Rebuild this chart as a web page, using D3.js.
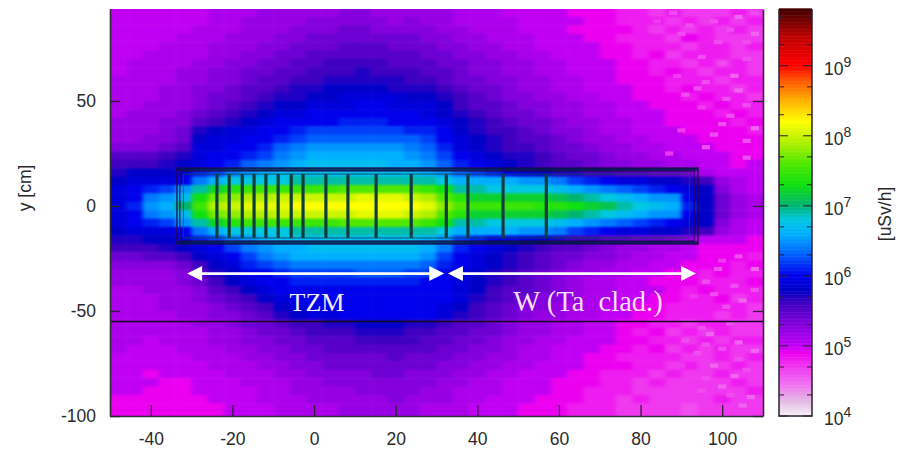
<!DOCTYPE html>
<html>
<head>
<meta charset="utf-8">
<script src="https://cdn.jsdelivr.net/npm/d3@7"></script>
<style>
html, body { margin: 0; padding: 0; background: #fff; }
text { font-family: "Liberation Sans", Arial, sans-serif; fill: #2a2a2a; }
</style>
</head>
<body>
<div id="chart"></div>
<script>
// bin centres of the dose map [cm]
var binX = [-48,-44,-40,-36,-32,-28,-24,-20,-16,-12,-8,-4,0,4,8,12,16,20,24,28,32,36,40,44,48,52,56,60,64,68,72,76,80,84,88,92,96,100,104,108];
var binY = [92,88,84,80,76,72,68,64,60,56,52,48,44,40,36,32,28,24,20,16,12,8,4,0,-4,-8,-12,-16,-20,-24,-28,-32,-36,-40,-44,-48,-52,-56,-60,-64,-68,-72,-76,-80,-84,-88,-92,-96,-100];

// log10(dose) x 10, one line per row of binY
var doseLog = [
[50,50,50,50,50,50,51,51,51,52,52,52,52,52,53,53,52,52,52,52,52,51,51,51,50,50,50,50,49,49,49,48,48,47,48,47,47,47,48,47],
[50,50,50,50,50,50,51,51,52,52,52,52,53,53,53,53,53,52,53,52,52,51,51,51,51,50,50,50,50,49,49,48,48,48,47,48,47,48,47,48],
[50,50,50,50,50,51,51,51,52,52,52,53,53,53,54,54,53,53,53,53,52,52,51,51,51,50,50,50,49,49,49,49,48,47,48,47,48,47,48,47],
[50,50,50,50,51,51,51,52,52,52,53,53,54,54,54,54,54,54,54,53,53,52,52,51,51,51,50,50,50,49,49,48,48,48,47,49,48,47,47,47],
[50,50,50,51,51,51,52,52,52,53,53,54,54,54,55,55,55,54,54,54,53,53,52,52,51,51,50,50,50,50,49,49,48,48,48,47,48,48,47,48],
[50,50,51,51,51,51,52,52,53,53,54,54,55,55,55,55,55,55,55,54,54,53,53,52,52,51,51,50,50,50,49,49,48,49,47,48,48,48,47,47],
[50,51,51,51,51,52,52,53,53,54,54,55,55,56,56,56,56,55,55,55,54,54,53,53,52,52,51,51,50,50,50,49,49,48,48,47,48,47,48,47],
[50,51,51,51,52,52,53,53,54,54,55,55,56,56,56,57,56,56,56,55,55,54,53,53,52,52,51,51,50,50,50,49,49,48,49,48,47,48,48,47],
[51,51,51,51,52,52,53,53,54,55,55,56,56,57,57,57,57,57,56,56,55,54,54,53,53,52,52,51,51,50,50,49,49,49,48,48,48,47,48,48],
[51,51,51,52,52,53,53,54,55,55,56,57,57,58,58,58,58,57,57,57,56,55,54,54,53,52,52,51,51,50,50,50,49,49,48,49,48,48,47,48],
[51,51,51,52,52,53,54,54,55,56,57,57,58,58,59,59,59,59,58,58,57,56,55,54,53,53,52,52,51,51,50,50,49,49,49,48,49,48,48,47],
[51,51,52,52,52,53,54,55,56,57,58,58,59,59,59,60,60,59,59,59,58,56,55,55,54,53,53,52,52,51,51,50,50,49,49,49,48,49,48,48],
[51,52,52,52,53,54,55,56,57,58,59,59,60,60,60,60,60,60,60,59,58,57,56,55,54,54,53,52,52,51,51,50,50,50,49,49,49,48,49,48],
[52,52,52,53,53,55,56,57,58,59,60,60,60,60,61,61,61,60,60,60,59,58,57,56,55,54,54,53,52,52,51,51,50,50,49,49,49,49,48,49],
[52,52,52,53,54,57,58,59,59,60,60,61,62,62,62,62,62,62,61,61,60,58,57,56,56,55,54,53,53,52,51,51,50,50,50,49,49,49,49,48],
[52,52,53,53,54,58,59,59,60,60,61,62,63,63,63,63,63,63,63,62,60,59,58,57,56,55,55,54,53,52,52,51,51,50,50,50,49,49,49,49],
[53,53,53,54,55,59,59,60,60,61,63,64,65,65,65,65,65,65,64,63,61,59,58,57,56,56,55,54,54,53,52,52,51,51,50,50,50,49,49,49],
[55,55,55,56,57,59,60,60,61,62,64,65,66,66,66,66,66,66,65,64,62,60,59,58,57,57,56,55,54,54,53,52,52,51,51,50,50,50,49,49],
[56,56,56,57,58,59,60,61,63,64,65,66,67,67,67,67,67,66,66,65,63,61,60,59,58,57,56,55,55,54,53,53,52,52,51,51,50,50,49,50],
[57,58,58,58,59,61,62,64,65,66,67,67,67,67,67,67,67,67,67,66,65,63,62,61,60,59,58,57,57,56,56,55,55,54,54,53,51,50,50,50],
[58,59,59,59,60,64,66,68,68,68,68,69,69,69,69,69,69,69,69,69,68,66,66,66,66,65,65,64,62,61,60,59,59,58,58,57,56,52,51,50],
[59,60,61,62,65,69,72,74,75,75,75,75,75,75,76,76,76,76,76,75,73,69,69,68,68,68,68,67,66,65,64,63,62,61,60,59,58,53,51,50],
[59,60,64,65,67,73,77,78,79,79,80,80,80,80,80,81,81,81,80,79,76,74,72,72,72,72,72,71,70,69,68,67,66,65,65,60,58,54,52,51],
[59,61,65,66,70,75,79,80,81,81,81,82,82,82,82,82,82,82,82,81,78,76,75,75,75,75,74,74,73,72,71,69,68,67,66,61,58,54,52,51],
[59,60,64,65,67,73,77,78,79,79,80,80,80,80,80,81,81,81,80,79,76,74,72,72,72,72,72,71,70,69,68,67,66,65,65,60,58,54,52,51],
[59,60,61,62,65,69,72,74,75,75,75,75,75,75,76,76,76,76,76,75,73,69,69,68,68,68,68,67,66,65,64,63,62,61,60,59,58,53,51,50],
[58,59,59,59,60,64,66,68,68,68,68,69,69,69,69,69,69,69,69,69,68,66,66,66,66,65,65,64,62,61,60,59,59,58,58,57,56,52,51,50],
[57,57,58,58,59,61,62,64,65,66,67,67,67,67,67,67,67,67,67,66,65,62,61,60,60,59,58,57,56,56,55,55,54,54,53,52,50,50,50,49],
[56,56,56,57,58,59,60,62,64,65,66,66,67,67,67,67,67,67,67,66,64,61,60,59,58,57,56,55,55,54,53,52,52,51,51,50,49,49,49,49],
[54,54,55,55,56,58,59,60,62,64,65,66,66,66,66,66,66,66,66,65,62,60,59,58,57,56,55,54,54,53,53,52,51,51,50,50,49,49,49,48],
[53,53,53,53,54,56,58,59,61,62,63,64,64,64,64,64,64,64,64,63,61,60,59,58,57,56,55,54,53,52,52,51,51,50,50,49,49,49,48,49],
[52,52,52,52,53,55,57,58,60,60,61,62,62,62,62,63,63,63,62,62,60,59,58,57,56,55,54,53,52,52,51,51,50,50,49,49,48,49,48,48],
[52,52,52,52,53,54,56,58,59,60,60,61,61,61,61,61,61,61,61,60,60,59,58,57,56,55,54,53,52,51,51,50,50,49,49,49,48,48,48,49],
[51,51,52,52,52,53,55,56,58,59,60,60,60,60,60,60,60,60,60,60,60,59,58,56,55,55,54,53,52,51,51,50,50,50,49,48,49,48,48,48],
[51,51,51,52,52,53,54,55,56,58,59,60,60,60,60,60,60,60,60,60,60,59,57,56,55,54,53,53,52,51,51,50,50,49,49,48,48,49,47,48],
[51,51,51,52,52,52,53,54,55,56,58,59,60,60,60,60,60,60,60,60,59,58,56,55,54,53,53,52,51,51,50,50,49,49,48,48,48,48,48,47],
[51,51,51,51,52,52,53,53,54,55,57,58,59,59,60,60,60,60,60,60,59,57,56,55,54,53,52,52,51,51,50,50,49,49,48,48,48,47,48,47],
[51,51,51,51,51,52,52,53,54,54,55,56,56,57,57,58,58,58,57,57,56,55,55,54,53,52,52,51,51,50,50,49,49,48,48,47,48,48,47,47],
[51,51,51,51,51,51,52,52,53,54,54,55,56,56,56,57,57,57,56,56,55,55,54,54,53,52,52,51,51,50,50,49,48,49,47,48,47,48,47,47],
[51,51,50,51,51,51,52,52,53,53,54,54,55,55,55,56,56,56,56,55,55,54,54,53,52,52,51,51,50,50,50,49,49,48,48,47,48,47,48,48],
[51,50,50,50,51,51,51,52,52,53,53,54,54,55,55,55,55,55,55,55,54,54,53,53,52,51,51,50,50,50,49,49,48,49,47,48,47,48,47,47],
[50,50,50,50,50,51,51,51,52,52,53,53,54,54,54,54,54,55,54,54,54,53,53,52,52,51,51,50,50,49,49,48,48,48,48,47,47,48,47,48],
[50,50,50,50,50,50,51,51,51,52,52,53,53,54,54,54,54,54,54,54,53,53,52,52,51,51,50,50,50,49,49,49,48,48,47,48,47,47,48,47],
[50,50,49,50,50,50,50,51,51,51,52,52,53,53,53,53,54,54,53,53,53,52,52,51,51,50,50,50,49,49,48,48,48,47,48,47,47,48,47,47],
[50,50,50,49,49,50,50,50,51,51,51,52,52,53,53,53,53,53,53,53,52,52,51,51,50,50,50,49,49,49,48,48,47,48,47,47,47,47,48,47],
[50,50,49,49,49,50,50,50,50,51,51,52,52,52,52,53,53,53,53,52,52,51,51,51,50,50,50,49,49,48,48,48,47,47,47,47,47,47,47,48],
[49,49,49,49,49,49,50,50,50,51,51,51,52,52,52,52,52,53,52,52,52,51,51,50,50,50,49,49,49,48,48,47,48,47,47,47,47,48,47,47],
[49,49,49,49,49,49,49,50,50,50,51,51,51,51,52,52,52,52,52,51,51,51,50,50,50,49,49,49,48,48,48,47,47,47,47,46,47,47,47,47],
[49,49,49,49,49,49,49,50,50,50,51,51,51,51,52,52,52,52,52,51,51,51,50,50,50,49,49,49,48,48,48,47,47,47,47,46,47,47,47,47]
];

// the lighter small bins on the right hand side: x [cm], y [cm], log10(dose) x 10
var speckle = [
[88,92,46],[90,82,46],[89,62,47],[91,53,46],[95,71,46],[95,47,47],[99,78,46],[103,62,45],[106,78,46],[108,82,45],
[104,90,45],[108,92,46],[102,43,46],[100,39,46],[108,37,45],[106,31,46],[93,68,47],[96,59,46],[87,25,47],[96,28,46],
[106,23,46],[104,55,45],[101,51,46],[95,-58,46],[91,-64,46],[97,-61,45],[104,-65,45],[94,-70,46],[98,-76,45],[104,-73,46],
[108,-69,45],[103,-81,45],[100,-86,45],[107,-91,45],[95,-88,46],[103,-38,46],[98,-42,46],[105,-45,45],[101,-48,46],[104,-24,46],
[99,-30,46],[108,-30,45],[93,-43,47],[75,-97,47],[105,-95,45],[84,88,47],[92,86,46],[98,88,46],[102,84,46],[106,70,46],
[100,68,46],[94,56,46],[106,48,46],[98,34,46],[90,36,47],[102,-56,46],[100,-68,46],[96,-66,46],[106,-78,46],[96,-82,46],
[90,-76,47],[102,-90,46],[92,-92,47],[108,-40,46],[96,-36,46],[100,-26,47]
];

// colour key: log10(dose) -> colour
var keyStops = [4.0,4.2,4.45,4.7,4.9,5.0,5.3,5.6,5.8,6.0,6.3,6.6,6.8,7.0,7.3,7.6,7.9,8.2,8.5,8.8,9.0,9.4,9.81];
var keyColors = ["#f7f2f7","#e4bce4","#f070f0","#f038f0","#ec00f0","#c000f4","#8400dc","#4000c0","#0000c8","#0000ec","#0060ff","#00b0ff","#00c8e0","#00b470","#10e010","#50e800","#b0f000","#ffff00","#ffb000","#ff5000","#ff0000","#c00000","#400000"];
var keyDecades = [4,5,6,7,8,9];
var keyMinor = [2e4,5e4,2e5,5e5,2e6,5e6,2e7,5e7,2e8,5e8,2e9,5e9];

var xTicks = [-40,-20,0,20,40,60,80,100];
var yTicks = [-100,-50,0,50];

// target: plates and shells
var plates = [-23.8,-20.8,-17.6,-14.7,-11.8,-8.8,-5.6,-2.7,2.9,8.3,15.2,23.8,32.4,37.7,46.3,56.9];
var shellX = [[-33.6,94.1],[-32.9,93.1],[-32,92]];
var shellY = [18.1,16.7,15.2];
var arrows = [[-31.1,31.9],[32.8,93.6]];
var arrowY = -32.2;
var cutY = -55;

var width = 902, height = 449;
var plotL = 110, plotR = 763, plotT = 9, plotB = 416;

var svg = d3.select("#chart").append("svg")
    .attr("width", width)
    .attr("height", height)
    .style("display", "block");

var x = d3.scaleLinear().domain([-50,110]).range([plotL,plotR]);
var y = d3.scaleLinear().domain([-100,93.8]).range([plotB,plotT]);
var color = d3.scaleLinear().domain(keyStops).range(keyColors).clamp(true);

var defs = svg.append("defs");
defs.append("clipPath").attr("id","plotClip").append("rect")
    .attr("x",plotL).attr("y",plotT).attr("width",plotR-plotL).attr("height",plotB-plotT);
var blur = defs.append("filter").attr("id","soft")
    .attr("filterUnits","userSpaceOnUse")
    .attr("x",plotL-30).attr("y",plotT-30).attr("width",plotR-plotL+60).attr("height",plotB-plotT+60)
    .attr("color-interpolation-filters","sRGB");
blur.append("feGaussianBlur").attr("stdDeviation","2 1.3");
defs.append("filter").attr("id","soft2").append("feGaussianBlur").attr("stdDeviation",0.5);

//the dose map
var mapClip = svg.append("g").attr("clip-path","url(#plotClip)");
var map = mapClip.append("g").attr("filter","url(#soft)");
doseLog.forEach(function(row, r){
    map.selectAll("rect.r"+r)
        .data(row)
        .enter()
        .append("rect")
        .attr("class","r"+r)
        .attr("x",(d,i) => x(binX[i]-2) - (i==0 ? 30 : 0))
        .attr("y",y(binY[r]+2) - (r==0 ? 30 : 0))
        .attr("width",(d,i) => x(binX[i]+2)-x(binX[i]-2)+0.5 + (i==0 || i==binX.length-1 ? 30 : 0))
        .attr("height",y(binY[r]-2)-y(binY[r]+2)+0.5 + (r==0 || r==binY.length-1 ? 30 : 0))
        .attr("fill",d => color(d/10));
});
mapClip.append("g").attr("filter","url(#soft2)").selectAll("rect")
    .data(speckle)
    .enter()
    .append("rect")
    .attr("x",d => x(d[0]-1))
    .attr("y",d => y(d[1]+1))
    .attr("width",x(2)-x(0))
    .attr("height",y(0)-y(2))
    .attr("fill",d => color(d[2]/10));

//target outline
var target = svg.append("g").attr("clip-path","url(#plotClip)").attr("filter","url(#soft2)");
shellX.forEach(function(s, i){
    target.append("rect")
        .attr("x",x(s[0])).attr("y",y(shellY[i]))
        .attr("width",x(s[1])-x(s[0])).attr("height",y(-shellY[i])-y(shellY[i]))
        .attr("fill","none")
        .attr("stroke", i==2 ? "#104858" : "#2a0a48")
        .attr("stroke-opacity", i==2 ? 0.7 : 0.75)
        .attr("stroke-width", i==2 ? 1.2 : 1.6);
});
target.append("rect")
    .attr("x",x(shellX[0][0])).attr("y",y(shellY[0]))
    .attr("width",x(shellX[0][1])-x(shellX[0][0])).attr("height",y(shellY[1])-y(shellY[0]))
    .attr("fill","#001848").attr("fill-opacity",0.8);
target.append("rect")
    .attr("x",x(shellX[0][0])).attr("y",y(-shellY[1]))
    .attr("width",x(shellX[0][1])-x(shellX[0][0])).attr("height",y(-shellY[0])-y(-shellY[1]))
    .attr("fill","#001848").attr("fill-opacity",0.8);
target.selectAll("line.plate")
    .data(plates)
    .enter()
    .append("line")
    .attr("class","plate")
    .attr("x1",d => x(d)).attr("x2",d => x(d))
    .attr("y1",y(shellY[2])).attr("y2",y(-shellY[2]))
    .attr("stroke","#0f3c3c")
    .attr("stroke-width",3.2);

//black line below the target
svg.append("line")
    .attr("x1",plotL).attr("x2",plotR)
    .attr("y1",y(cutY)).attr("y2",y(cutY))
    .attr("stroke","#140a20")
    .attr("stroke-width",1.4);

//white arrows
var arrowG = svg.append("g");
arrows.forEach(function(a){
    let yy = y(arrowY), x0 = x(a[0]), x1 = x(a[1]);
    arrowG.append("line")
        .attr("x1",x0+8).attr("x2",x1-8).attr("y1",yy).attr("y2",yy)
        .attr("stroke","#fff").attr("stroke-width",2.8);
    arrowG.append("path").attr("fill","#fff")
        .attr("d",d3.line()([[x0,yy],[x0+15,yy-7.5],[x0+15,yy+7.5]])+"Z");
    arrowG.append("path").attr("fill","#fff")
        .attr("d",d3.line()([[x1,yy],[x1-15,yy-7.5],[x1-15,yy+7.5]])+"Z");
});
svg.append("text")
    .attr("x",317).attr("y",311)
    .attr("text-anchor","middle")
    .style("font-family","'Liberation Serif', serif")
    .style("font-size","26px")
    .style("fill","#f4ecfb")
    .text("TZM");
svg.append("text")
    .attr("x",588).attr("y",311)
    .attr("text-anchor","middle")
    .style("font-family","'Liberation Serif', serif")
    .style("font-size","28.5px")
    .style("fill","#f9dff9")
    .text("W (Ta\u00a0\u00a0clad.)");

//axes
var tickText = d => String(d);
var bottom = svg.append("g").attr("transform","translate(0,"+plotB+")")
    .call(d3.axisBottom(x).tickValues(xTicks).tickSizeInner(-11).tickSizeOuter(0).tickPadding(17).tickFormat(tickText));
var left = svg.append("g").attr("transform","translate("+plotL+",0)")
    .call(d3.axisLeft(y).tickValues(yTicks).tickSizeInner(-10).tickSizeOuter(0).tickPadding(14).tickFormat(tickText));
var right = svg.append("g").attr("transform","translate("+plotR+",0)")
    .call(d3.axisRight(y).tickValues(yTicks).tickSizeInner(-10).tickSizeOuter(0).tickFormat(""));
[bottom,left,right].forEach(function(a){
    a.selectAll("path.domain").attr("stroke","#332a38").attr("stroke-width",1.6);
    a.selectAll("line").attr("stroke","#2a2030").attr("stroke-width",1.3);
    a.selectAll("text").style("font-size","17.5px").style("font-family","'Liberation Sans', sans-serif").style("fill","#2a2a2a");
});
svg.append("text")
    .attr("transform","translate(31,188) rotate(-90)")
    .attr("text-anchor","middle")
    .style("font-size","17.5px")
    .text("y [cm]");

//colour key
var keyL = 779, keyR = 812;
var keyScale = d3.scaleLog().domain([1e4,Math.pow(10,9.81)]).range([plotB,plotT]);
svg.append("g").selectAll("rect")
    .data(d3.range(4,9.81,0.02))
    .enter()
    .append("rect")
    .attr("x",keyL).attr("width",keyR-keyL)
    .attr("y",d => keyScale(Math.pow(10,d+0.02)))
    .attr("height",d => keyScale(Math.pow(10,d))-keyScale(Math.pow(10,d+0.02))+0.5)
    .attr("fill",d => color(d));
var keyLines = svg.append("g").attr("stroke","#2a2030").attr("fill","none");
keyLines.append("path")
    .attr("d",d3.line()([[keyL,plotT],[keyL,plotB],[keyR,plotB],[keyR,plotT]]))
    .attr("stroke-width",1.5);
var keyTicks = keyMinor.map(d => [d,5]).concat(keyDecades.map(d => [Math.pow(10,d),9]));
keyLines.selectAll("line.left")
    .data(keyTicks.filter(d => d[0] < Math.pow(10,9.81)))
    .enter()
    .append("line")
    .attr("x1",keyL).attr("x2",d => keyL+d[1])
    .attr("y1",d => keyScale(d[0])).attr("y2",d => keyScale(d[0]));
keyLines.selectAll("line.right")
    .data(keyTicks.filter(d => d[0] < Math.pow(10,9.81)))
    .enter()
    .append("line")
    .attr("x1",keyR).attr("x2",d => keyR-d[1])
    .attr("y1",d => keyScale(d[0])).attr("y2",d => keyScale(d[0]));
var keyLabels = svg.append("g").selectAll("text")
    .data(keyDecades)
    .enter()
    .append("text")
    .attr("x",824)
    .attr("y",d => keyScale(Math.pow(10,d))+9)
    .style("font-size","17.5px");
keyLabels.append("tspan").text("10");
keyLabels.append("tspan").attr("dy",-8).style("font-size","14px").text(d => d);
svg.append("text")
    .attr("transform","translate(891,214) rotate(-90)")
    .attr("text-anchor","middle")
    .style("font-size","17.5px")
    .text("[uSv/h]");
</script>
</body>
</html>
